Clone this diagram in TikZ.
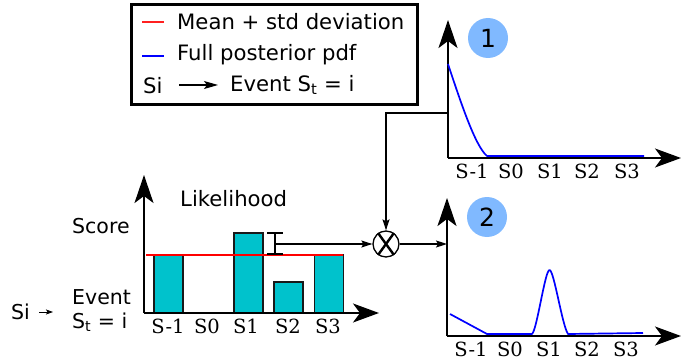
\documentclass[tikz,border=0pt]{standalone}
\usepackage{fontspec}
\setmainfont{DejaVu Sans}
\newfontfamily\serifaxis{DejaVu Serif}
\usetikzlibrary{arrows.meta,calc}
\definecolor{barcol}{HTML}{00C2CC}
\definecolor{badgecol}{HTML}{80B9FF}
\definecolor{legred}{HTML}{FF2020}
\definecolor{legblue}{HTML}{0000FF}
\tikzset{
  x=1pt,y=-1pt,
  txt/.style={inner sep=0pt,anchor=west,font=\fontsize{20.5}{22}\selectfont},
  big/.style={font=\fontsize{21.2}{24}\selectfont},
  tick/.style={inner sep=0pt,anchor=center,font=\serifaxis\fontsize{19.5}{20}\selectfont},
  axis/.style={line width=1.6pt,-{Stealth[length=28pt,width=19pt,inset=7pt]}},
  axisx/.style={line width=1.6pt,-{Stealth[length=26pt,width=19pt,inset=7pt]}},
  conn/.style={line width=1.1pt,-{Stealth[length=11pt,width=7pt,inset=2pt]}},
  bar/.style={draw=black!90,line width=1.7pt,fill=barcol,outer sep=0pt,inner sep=0pt,anchor=south west,minimum width=29pt},
  badge/.style={circle,fill=badgecol,minimum size=40pt,inner sep=0pt,font=\fontsize{25}{26}\selectfont},
  pdf/.style={blue,line width=1.7pt,line join=round},
}
\begin{document}
\begin{tikzpicture}
\useasboundingbox (0,0) rectangle (697,361);
% legend
\node[draw=black,line width=2.5pt,minimum width=286pt,minimum height=100pt,inner sep=0pt,outer sep=0pt,anchor=north west] (legend) at (131.5,4.5) {};
\coordinate (lr1) at (142,22); \coordinate (lr2) at (164,22);
\coordinate (lb1) at (142,56); \coordinate (lb2) at (164,56);
\draw[draw=legred,line width=1.2pt] (lr1) -- (lr2);
\draw[draw=legblue,line width=1.2pt] (lb1) -- (lb2);
\node[txt,big] (l1) at (177,22) {Mean + std deviation};
\node[txt,big] (l2) at (177,55) {Full posterior pdf};
\node[txt,big] (l3) at (143,86) {Si};
\node[txt,big] (l4) at (230,85) {Event S$_{\mathrm t}$ = i};
\coordinate (la1) at (179,85); \coordinate (la2) at (218,85);
\draw[line width=1.1pt,-{Stealth[length=14pt,width=8pt,inset=3pt]}] (la1) -- (la2);
% likelihood chart
\coordinate (o) at (144,313);
\coordinate (oy) at (144,175);
\coordinate (ox) at (379,313);
\node[bar,minimum height=58pt] (b1) at (154,313) {};
\node[bar,minimum height=80pt] (b2) at (234,313) {};
\node[bar,minimum height=31pt] (b3) at (274,313) {};
\node[bar,minimum height=58pt] (b4) at (314.5,313) {};
\draw[axis] (o) -- (oy);
\draw[axisx] (o) -- (ox);
\coordinate (m1) at (146,255); \coordinate (m2) at (343,255);
\draw[red,line width=2pt] (m1) -- (m2);
\node[txt,big] (lik) at (180,199) {Likelihood};
\node[txt] (score) at (72,226) {Score};
\node[txt] (ev) at (72,297) {Event};
\node[txt] (st) at (72,322) {S$_{\mathrm t}$ = i};
\node[txt] (si) at (11,312) {Si};
\coordinate (sa1) at (39,312); \coordinate (sa2) at (53,312);
\draw[line width=.8pt,-{Stealth[length=7pt,width=5pt,inset=1.5pt]}] (sa1) -- (sa2);
\foreach \n/\t/\x in {a/S-1/168,b/S0/207,c/S1/246,d/S2/288,e/S3/328}
  \node[tick] (t\n) at (\x,326) {\t};
% error bar
\coordinate (e1) at (275,233); \coordinate (e2) at (275,254); \coordinate (e3) at (275,244);
\draw[line width=1.3pt] (267,233) -- (283,233) (267,254) -- (283,254) (e1) -- (e2);
% multiplier
\node[circle,draw=black,line width=1.3pt,minimum size=26pt,inner sep=0pt] (mul) at (386,244) {};
\draw[line width=2.4pt] ($(mul.center)+(-8,-11)$) -- ($(mul.center)+(8,11)$) ($(mul.center)+(8,-11)$) -- ($(mul.center)+(-8,11)$);
\draw[conn] (e3) -- (mul.west);
% top chart
\coordinate (to) at (448,158); \coordinate (ty) at (448,20); \coordinate (tx) at (681,158);
\draw[axis] (to) -- (ty);
\draw[axisx] (to) -- (tx);
\node[badge] (n1) at (488,38) {1};
\draw[pdf] (448,64) .. controls (460,100) and (475,146) .. (487,156) -- (644,156);
\coordinate (tj) at (448,113);
\draw[conn] (tj) -| (mul.north);
\foreach \n/\t/\x in {a/S-1/472,b/S0/511,c/S1/550,d/S2/587,e/S3/627}
  \node[tick] (u\n) at (\x,171) {\t};
% bottom chart
\coordinate (bo) at (447,336); \coordinate (by) at (447,198); \coordinate (bx) at (681,336);
\draw[axis] (bo) -- (by);
\draw[axisx] (bo) -- (bx);
\node[badge] (n2) at (487,217) {2};
\draw[pdf] (450,314) -- (487,334) -- (532,334) .. controls (537,330) and (545,270) .. (549.5,270) .. controls (554,270) and (562,325) .. (568,334) -- (643,333);
\coordinate (bj) at (447,244);
\draw[conn] (mul.east) -- (bj);
\foreach \n/\t/\x in {a/S-1/471,b/S0/510,c/S1/549,d/S2/587,e/S3/626}
  \node[tick] (v\n) at (\x,349) {\t};
\end{tikzpicture}
\end{document}
